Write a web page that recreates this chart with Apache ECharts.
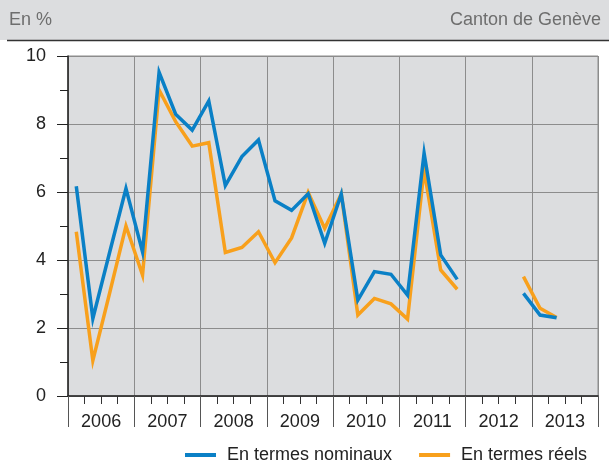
<!DOCTYPE html>
<html>
<head>
<meta charset="utf-8">
<script src="https://cdn.jsdelivr.net/npm/echarts@6/dist/echarts.min.js"></script>
<style>
html,body{margin:0;padding:0;background:#fff;}
#c{width:609px;height:461px;}
</style>
</head>
<body>
<div id="c"></div>
<script>
var years = ['2006','2007','2008','2009','2010','2011','2012','2013'];
var quarters = [];
years.forEach(function(y){ for (var q = 1; q <= 4; q++) quarters.push(y + ' T' + q); });

var nominal = [6.17, 2.28, 4.2, 6.1,   4.24, 9.52, 8.29, 7.82,   8.68, 6.19, 7.04, 7.53,
               5.74, 5.46, 5.95, 4.49, 5.94, 2.82, 3.66, 3.58,   2.97, 7.14, 4.15, 3.43,
               null, null, null, 3.02, 2.38, 2.30, null, null];
var reel    = [4.83, 1.04, 3.0, 5.0,   3.56, 9.0, 8.07, 7.35,    7.45, 4.22, 4.37, 4.83,
               3.92, 4.65, 5.99, 4.93, 5.94, 2.38, 2.87, 2.71,   2.26, 6.65, 3.71, 3.14,
               null, null, null, 3.51, 2.58, 2.31, null, null];
var yTicks = [0, 2, 4, 6, 8, 10];

var FONT = 'Liberation Sans';
var chart = echarts.init(document.getElementById('c'), null, {renderer: 'canvas'});
chart.setOption({
  backgroundColor: '#ffffff',
  animation: false,
  textStyle: {fontFamily: FONT},
  graphic: [
    {type: 'rect', shape: {x: 0, y: 0, width: 609, height: 40}, style: {fill: '#dcdddf'}, z: 0},
    {type: 'line', shape: {x1: 7, y1: 40.5, x2: 609, y2: 40.5}, style: {stroke: '#333', lineWidth: 1.5}},
    {type: 'text', left: 9, top: 11, style: {text: 'En %', font: '18px "Liberation Sans"', fill: '#6e6e6e'}},
    {type: 'text', right: 8, top: 11, style: {text: 'Canton de Genève', font: '18px "Liberation Sans"', fill: '#6e6e6e'}}
  ],
  grid: {left: 68, right: 11, top: 56, bottom: 65, show: true, backgroundColor: '#dcdddf', borderColor: '#8c8c8c', borderWidth: 1},
  legend: {
    left: 180, top: 441, itemWidth: 31, itemHeight: 4, itemGap: 27,
    icon: 'rect',
    textStyle: {fontFamily: FONT, fontSize: 18, color: '#222', padding: [0, 0, 0, 6]},
    data: ['En termes nominaux', 'En termes réels']
  },
  xAxis: [
    {
      type: 'category', data: quarters, boundaryGap: true, position: 'bottom',
      axisLine: {show: true, lineStyle: {color: '#222', width: 1.5}},
      axisTick: {show: true, interval: 0, length: 8, lineStyle: {color: '#333'}},
      axisLabel: {show: false},
      splitLine: {show: false}
    },
    {
      type: 'category', data: years, boundaryGap: true, position: 'bottom',
      axisLine: {show: false},
      axisTick: {show: true, interval: 0, length: 31, lineStyle: {color: '#555'}},
      axisLabel: {show: true, interval: 0, margin: 17, fontSize: 18, color: '#222', fontFamily: FONT},
      splitLine: {show: true, interval: 0, lineStyle: {color: '#8c8c8c', width: 1}}
    }
  ],
  yAxis: {
    type: 'value', min: 0, max: 10, interval: 2,
    axisLine: {show: true, lineStyle: {color: '#222', width: 1.5}},
    axisTick: {show: true, length: 11, lineStyle: {color: '#222'}},
    minorTick: {show: true, splitNumber: 2, length: 8, lineStyle: {color: '#222'}},
    axisLabel: {margin: 22, fontSize: 18, color: '#222', fontFamily: FONT,
      formatter: function(v){ return yTicks.indexOf(v) >= 0 ? String(v) : ''; }},
    splitLine: {show: true, lineStyle: {color: '#8c8c8c', width: 1}}
  },
  series: [
    {name: 'En termes nominaux', type: 'line', xAxisIndex: 0, data: nominal, showSymbol: false, symbol: 'none',
     connectNulls: false, color: '#0a80c6', lineStyle: {width: 3.5, color: '#0a80c6', join: 'miter'}, z: 3},
    {name: 'En termes réels', type: 'line', xAxisIndex: 0, data: reel, showSymbol: false, symbol: 'none',
     connectNulls: false, color: '#f8a01c', lineStyle: {width: 3.5, color: '#f8a01c', join: 'miter'}, z: 2}
  ]
});
</script>
</body>
</html>
